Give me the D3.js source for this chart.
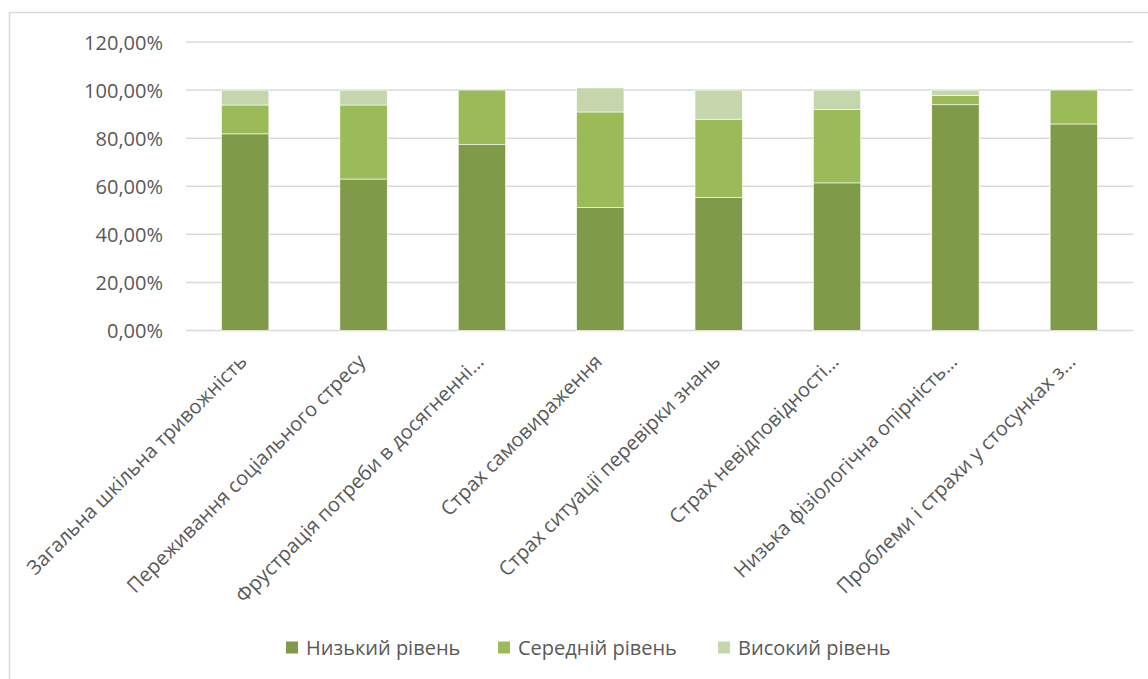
<!DOCTYPE html>
<html><head><meta charset="utf-8">
<script src="https://cdn.jsdelivr.net/npm/d3@7/dist/d3.min.js"></script>
<style>body{margin:0;background:#fff;}svg{display:block;font-family:"Open Sans",sans-serif;}</style>
</head><body><svg id="c" width="1148" height="679"></svg>
<script>
const categories = ["Загальна шкільна тривожність","Переживання соціального стресу","Фрустрація потреби в досягненні…","Страх самовираження","Страх ситуації перевірки знань","Страх невідповідності…","Низька фізіологічна опірність…","Проблеми і страхи у стосунках з…"];
const seriesNames = ["Низький рівень","Середній рівень","Високий рівень"];
const low  = [81.8, 63.0, 77.3, 51.1, 55.3, 61.4, 93.9, 85.9];
const mid  = [12.0, 30.8, 22.7, 39.8, 32.6, 30.5, 3.8, 14.1];
const high = [6.2, 6.2, 0.0, 10.0, 12.1, 8.1, 2.3, 0.0];
const yTicks = [0,20,40,60,80,100,120];
const colors = ["#7f9a48","#9bbb59","#c6d6ac"];

const svg = d3.select("#c");
svg.append("rect").attr("x",9.5).attr("y",12.5).attr("width",1160).attr("height",700)
  .attr("fill","none").attr("stroke","#d9d9d9").attr("stroke-width",1.5);

const x = d3.scaleBand().domain(categories).range([186,1133]).paddingInner(0.6).paddingOuter(0.3);
const y = d3.scaleLinear().domain([0,120]).range([330.5,42]);

svg.append("g").selectAll("line").data(yTicks).join("line")
  .attr("x1",186).attr("x2",1133).attr("y1",d=>y(d)).attr("y2",d=>y(d))
  .attr("stroke","#d9d9d9").attr("stroke-width",1.5);

const yAxis = d3.axisLeft(y).tickValues(yTicks).tickSize(0).tickPadding(0)
  .tickFormat(d=>d.toFixed(2).replace(".",",")+"%");
const ya = svg.append("g").attr("transform","translate(163,0)").call(yAxis);
ya.select(".domain").remove();
ya.selectAll("text").attr("fill","#595959").style("font-size","20px").style("font-family","'Open Sans',sans-serif").attr("dy","0.35em");

const rows = categories.map((c,i)=>({cat:c, s0:low[i], s1:mid[i], s2:high[i]}));
const stack = d3.stack().keys(["s0","s1","s2"])(rows);
svg.append("g").selectAll("g").data(stack).join("g").attr("fill",(d,i)=>colors[i])
  .selectAll("rect").data(d=>d).join("rect")
  .attr("x",d=>x(d.data.cat)).attr("width",x.bandwidth())
  .attr("y",d=>y(d[1])).attr("height",d=>Math.max(0,y(d[0])-y(d[1])))
  .attr("stroke","#fff").attr("stroke-width",0.6);

svg.append("g").selectAll("text").data(categories).join("text")
  .attr("transform",d=>`translate(${x(d)+x.bandwidth()/2-2},${358}) rotate(-45)`)
  .attr("text-anchor","end").attr("dy","0.35em")
  .attr("fill","#595959").style("font-size","20px").text(d=>d);

const legX = [286, 498, 718];
const leg = svg.append("g");
seriesNames.forEach((n,i)=>{
  leg.append("rect").attr("x",legX[i]).attr("y",641.5).attr("width",12).attr("height",12).attr("fill",colors[i]);
  leg.append("text").attr("x",legX[i]+20).attr("y",647.5).attr("dy","0.35em")
    .attr("fill","#595959").style("font-size","20px").text(n);
});
</script></body></html>
